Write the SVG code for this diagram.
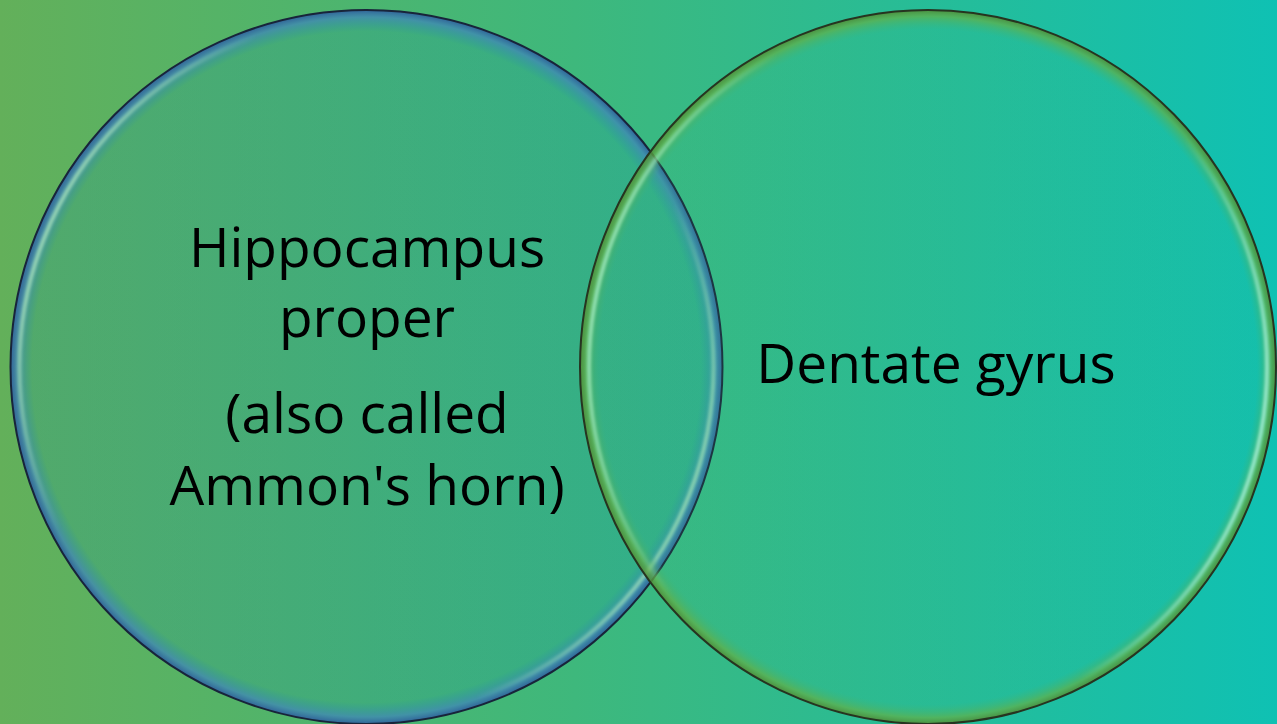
<svg xmlns="http://www.w3.org/2000/svg" width="1277" height="724" viewBox="0 0 1277 724">
  <defs>
    <linearGradient id="bg" x1="0" y1="0" x2="1" y2="0">
      <stop offset="0" stop-color="#63b05a"/>
      <stop offset="0.45" stop-color="#3eb87c"/>
      <stop offset="1" stop-color="#0fc1b3"/>
    </linearGradient>
    <radialGradient id="leftFill" cx="0.5" cy="0.5" r="0.5">
      <stop offset="0" stop-color="#1a90a2" stop-opacity="0.22"/>
      <stop offset="0.94" stop-color="#1a90a2" stop-opacity="0.22"/>
      <stop offset="0.98" stop-color="#3f86b8" stop-opacity="0.75"/>
      <stop offset="1" stop-color="#2f5f9a" stop-opacity="0.95"/>
    </radialGradient>
    <radialGradient id="rightFill" cx="0.5" cy="0.5" r="0.5">
      <stop offset="0" stop-color="#3cb47a" stop-opacity="0.12"/>
      <stop offset="0.945" stop-color="#3cb47a" stop-opacity="0.12"/>
      <stop offset="0.982" stop-color="#62b048" stop-opacity="0.7"/>
      <stop offset="1" stop-color="#4e8a36" stop-opacity="0.9"/>
    </radialGradient>
    <linearGradient id="hlLeft" x1="0" y1="0.3" x2="1" y2="0.7">
      <stop offset="0" stop-color="#b8f0c0" stop-opacity="0.85"/>
      <stop offset="0.2" stop-color="#b8f0c0" stop-opacity="0"/>
      <stop offset="0.8" stop-color="#b8f0c0" stop-opacity="0"/>
      <stop offset="1" stop-color="#b8f0c0" stop-opacity="0.85"/>
    </linearGradient>
    <linearGradient id="hlRight" x1="0" y1="0.4" x2="1" y2="0.6">
      <stop offset="0" stop-color="#a8f0c8" stop-opacity="0.8"/>
      <stop offset="0.2" stop-color="#a8f0c8" stop-opacity="0"/>
      <stop offset="0.8" stop-color="#a8f0d8" stop-opacity="0"/>
      <stop offset="1" stop-color="#a8f0d8" stop-opacity="0.9"/>
    </linearGradient>
    <filter id="soft" x="-5%" y="-5%" width="110%" height="110%">
      <feGaussianBlur stdDeviation="1.6"/>
    </filter>
  </defs>
  <style>
    .lbl { font-family: "Open Sans", "Liberation Sans", sans-serif; font-size: 55px; fill: #000000; text-anchor: middle; }
    .edge { fill: none; stroke-width: 2; }
  </style>

  <rect x="0" y="0" width="1277" height="724" fill="url(#bg)"/>

  <g id="connectors"></g>

  <g id="node-hippocampus">
    <ellipse cx="366.5" cy="367" rx="356" ry="357" fill="url(#leftFill)"/>
    <ellipse cx="366.5" cy="367" rx="347" ry="348" fill="none" stroke="url(#hlLeft)" stroke-width="4" filter="url(#soft)"/>
    <ellipse class="edge" cx="366.5" cy="367" rx="356" ry="357" stroke="#18243a"/>
    <text class="lbl" x="367" y="267">Hippocampus</text>
    <text class="lbl" x="367" y="337">proper</text>
    <text class="lbl" x="367" y="433">(also called</text>
    <text class="lbl" x="367" y="505">Ammon's horn)</text>
  </g>

  <g id="node-dentate">
    <ellipse cx="928" cy="367" rx="348" ry="357" fill="url(#rightFill)"/>
    <ellipse cx="928" cy="367" rx="339" ry="348" fill="none" stroke="url(#hlRight)" stroke-width="4" filter="url(#soft)"/>
    <ellipse class="edge" cx="928" cy="367" rx="348" ry="357" stroke="#263420"/>
    <text class="lbl" x="936" y="383">Dentate gyrus</text>
  </g>
</svg>
